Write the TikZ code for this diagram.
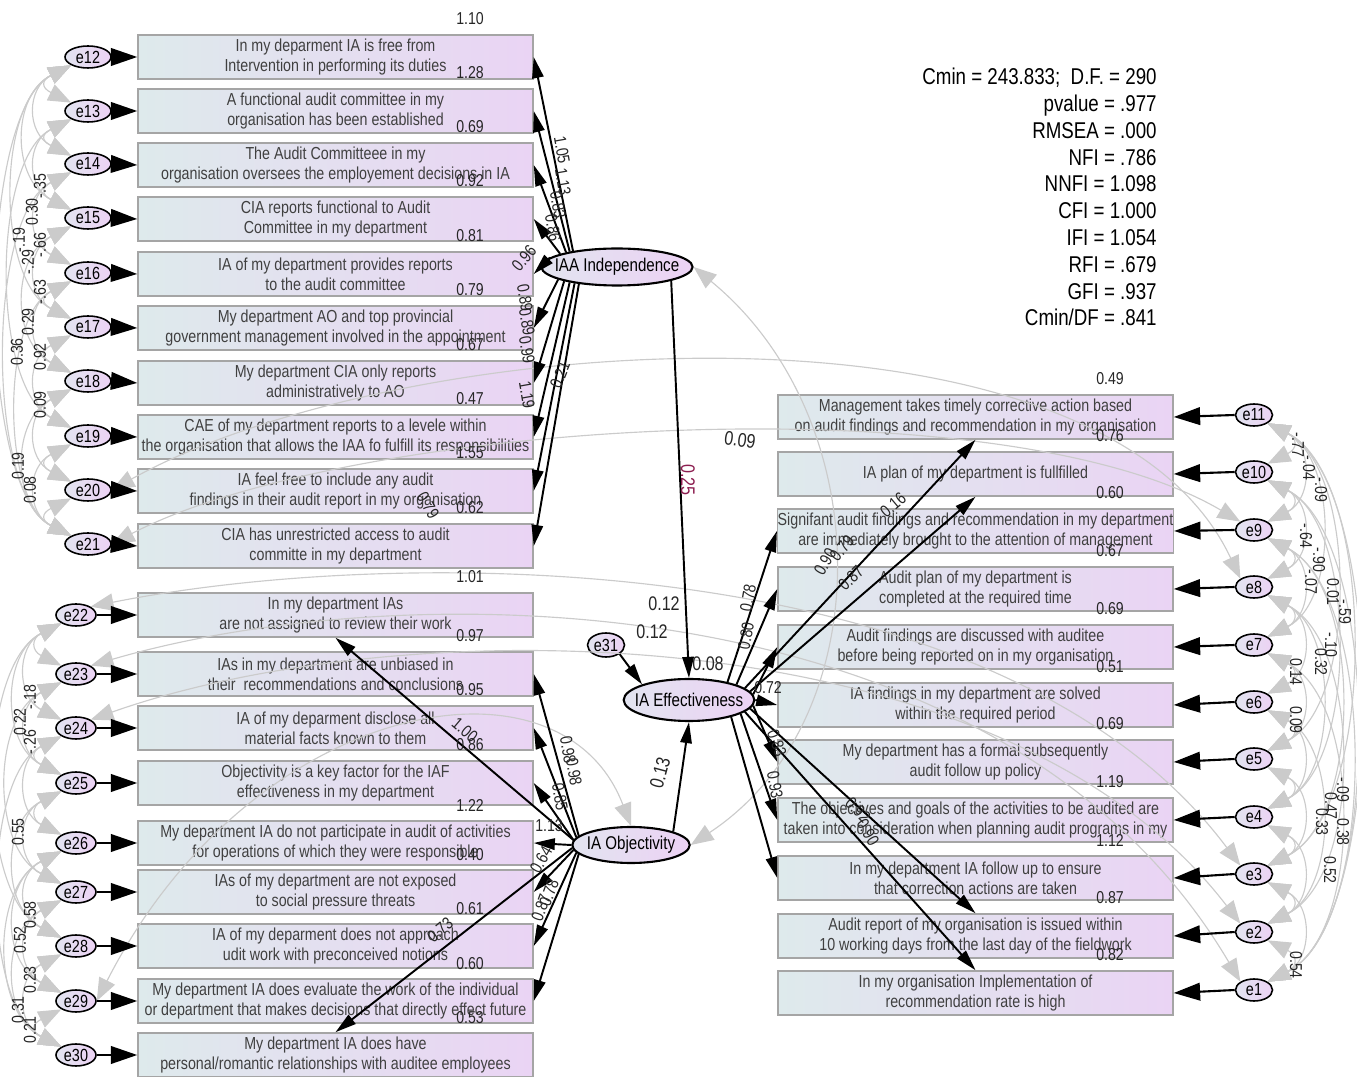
\documentclass[tikz,border=0pt]{standalone}
\usepackage{fontspec}
\setmainfont[FakeStretch=0.82]{Liberation Sans}
\usetikzlibrary{arrows.meta,shapes.geometric}
\definecolor{boxL}{RGB}{222,234,236}
\definecolor{boxR}{RGB}{234,212,244}
\definecolor{boxline}{RGB}{165,165,165}
\definecolor{itemtext}{RGB}{64,64,64}
\definecolor{ellL}{RGB}{226,228,240}
\definecolor{ellR}{RGB}{236,210,244}
\definecolor{covgray}{RGB}{203,203,203}
\definecolor{pathred}{RGB}{140,30,80}
\newcommand\boxtextfont{\fontsize{9.9}{11.3}\selectfont}
\newcommand\errtextfont{\fontsize{10}{12}\selectfont}
\newcommand\lattextfont{\fontsize{10.5}{12}\selectfont}
\newcommand\numtextfont{\fontsize{9.8}{11}\selectfont}
\newcommand\pathtextfont{\fontsize{11.2}{13}\selectfont}
\newcommand\stattextfont{\fontsize{13}{15}\selectfont}
\tikzset{
  itembox/.style={draw=boxline, line width=0.9pt, left color=boxL, right color=boxR,
    minimum width=7.9cm, minimum height=0.88cm, inner sep=0pt, align=center,
    text=itemtext, font=\boxtextfont},
  errnode/.style={ellipse, draw=black, line width=0.9pt, left color=ellL, right color=ellR,
    inner sep=0pt, minimum height=0.44cm, font=\errtextfont},
  errA/.style={errnode, minimum width=0.92cm},
  errB/.style={errnode, minimum width=0.80cm},
  errC/.style={errnode, minimum width=0.74cm},
  latent/.style={ellipse, draw=black, line width=1.2pt, left color=ellL, right color=ellR,
    inner ysep=0pt, font=\lattextfont},
  errarrow/.style={line width=1.2pt, -{Triangle[length=15pt,width=10pt]}},
  load/.style={line width=1.1pt, -{Triangle[length=12pt,width=6.5pt]}},
  covtip/.style={Triangle[length=13pt,width=10pt,fill=covgray,color=covgray]},
  cov/.style={draw=covgray, line width=0.65pt, {Triangle[length=13pt,width=10pt,fill=covgray,color=covgray]}-{Triangle[length=13pt,width=10pt,fill=covgray,color=covgray]}},
  val/.style={font=\numtextfont, inner sep=0pt, text=black!85},
  lbl/.style={font=\numtextfont, inner sep=0pt, text=black!85},
  plbl/.style={font=\pathtextfont, inner sep=0pt, text=black!85},
}
\begin{document}
\begin{tikzpicture}[x=0.02cm, y=-0.02cm]
\useasboundingbox (0,0) rectangle (1357,1077);

% ---------- indicator boxes: IAA Independence ----------
\node[itembox] (a1) at (335.5,57) {In my deparment IA is free from\\Intervention in performing its duties};
\node[itembox] (a2) at (335.5,111) {A functional audit committee in my\\organisation has been established};
\node[itembox] (a3) at (335.5,165) {The Audit Committeee in my\\organisation oversees the employement decisions in IA};
\node[itembox] (a4) at (335.5,219) {CIA reports functional to Audit\\Committee in my department};
\node[itembox] (a5) at (335.5,274) {IA of my department provides reports\\to the audit committee};
\node[itembox] (a6) at (335.5,328) {My department AO and top provincial\\government management involved in the appointment};
\node[itembox] (a7) at (335.5,383) {My department CIA only reports\\administratively to AO};
\node[itembox] (a8) at (335.5,437) {CAE of my department reports to a levele within\\the organisation that allows the IAA fo fulfill its responsibilities};
\node[itembox] (a9) at (335.5,491) {IA feel free to include any audit\\findings in their audit report in my organisation};
\node[itembox] (a10) at (335.5,546) {CIA has unrestricted access to audit\\committe in my department};

% ---------- indicator boxes: IA Objectivity ----------
\node[itembox] (o1) at (335.5,615) {In my department IAs\\are not assigned to review their work};
\node[itembox] (o2) at (335.5,674) {IAs in my department are unbiased in\\their\ \ recommendations and conclusions};
\node[itembox] (o3) at (335.5,728) {IA of my deparment disclose all\\material facts known to them};
\node[itembox] (o4) at (335.5,783) {Objectivity is a key factor for the IAF\\effectiveness in my department};
\node[itembox] (o5) at (335.5,843) {My department IA do not participate in audit of activities\\for operations of which they were responsible};
\node[itembox] (o6) at (335.5,892) {IAs of my department are not exposed\\to social pressure threats};
\node[itembox] (o7) at (335.5,946) {IA of my deparment does not approach\\udit work with preconceived notions};
\node[itembox] (o8) at (335.5,1001) {My department IA does evaluate the work of the individual\\or department that makes decisions that directly effect future};
\node[itembox] (o9) at (335.5,1055) {My department IA does have\\personal/romantic relationships with auditee employees};

% ---------- indicator boxes: IA Effectiveness ----------
\node[itembox] (b1) at (975.5,417) {Management takes timely corrective action based\\on audit findings and recommendation in my organisation};
\node[itembox] (b2) at (975.5,474) {IA plan of my department is fullfilled};
\node[itembox] (b3) at (975.5,531) {Signifant audit findings and recommendation in my department\\are immediately brought to the attention of management};
\node[itembox] (b4) at (975.5,589) {Audit plan of my department is\\completed at the required time};
\node[itembox] (b5) at (975.5,647) {Audit findings are discussed with auditee\\before being reported on in my organisation};
\node[itembox] (b6) at (975.5,705) {IA findings in my department are solved\\within the required period};
\node[itembox] (b7) at (975.5,762) {My department has a formal subsequently\\audit follow up policy};
\node[itembox] (b8) at (975.5,820) {The objectives and goals of the activities to be audited are\\taken into consideration when planning audit programs in my};
\node[itembox] (b9) at (975.5,878) {In my department IA follow up to ensure\\that correction actions are taken};
\node[itembox] (b10) at (975.5,936) {Audit report of my organisation is issued within\\10 working days from the last day of the fieldwork};
\node[itembox] (b11) at (975.5,993) {In my organisation Implementation of\\recommendation rate is high};

% ---------- latent variables ----------
\node[latent, inner xsep=-5pt, minimum width=3.0cm, minimum height=0.74cm] (ind) at (617,267) {IAA Independence};
\node[latent, inner xsep=-4.5pt, minimum width=2.42cm, minimum height=0.84cm] (eff) at (689,700) {IA Effectiveness};
\node[latent, inner xsep=-1.5pt, minimum width=2.3cm, minimum height=0.72cm] (obj) at (631,845) {IA Objectivity};
\node[errnode, minimum width=0.74cm, minimum height=0.48cm] (e31) at (606,645) {e31};

% ---------- error terms ----------
\foreach \k/\y in {12/57,13/111,14/164,15/218,16/273,17/327,18/381,19/436,20/490,21/544}
  \node[errA] (e\k) at (88,\y) {e\k};
\foreach \k/\y in {22/615,23/674,24/728,25/783,26/843,27/892,28/946,29/1001,30/1055}
  \node[errB] (e\k) at (76,\y) {e\k};
\foreach \k/\y in {11/415,10/472,9/530,8/587,7/645,6/702,5/759,4/817,3/874,2/932,1/990}
  \node[errC] (e\k) at (1254,\y) {e\k};

% ---------- covariances among error terms (left) ----------
\foreach \a/\b/\d in {12/13/30,13/14/30,14/15/30,15/16/30,16/17/30,17/18/30,18/19/30,19/20/30,20/21/30,
  12/14/45,13/15/45,14/16/45,15/17/45,16/18/45,17/19/45,18/20/45,19/21/45,
  12/15/60,15/18/60,18/21/60,12/17/75,14/21/85,13/19/80,16/21/70,12/21/95}
  \draw[cov] (e\a.south west) .. controls +(-\d,0.5*\d) and +(-\d,-0.5*\d) .. (e\b.north west);
\foreach \a/\b/\d in {22/23/30,23/24/30,24/25/30,25/26/30,26/27/30,27/28/30,28/29/30,29/30/30,
  22/24/45,23/25/45,24/26/45,25/27/45,26/28/45,27/29/45,28/30/45,
  22/25/60,25/28/60,26/29/60,27/30/60,23/27/70,22/28/85,24/30/80,26/30/70}
  \draw[cov] (e\a.south west) .. controls +(-\d,0.5*\d) and +(-\d,-0.5*\d) .. (e\b.north west);

% ---------- covariances among error terms (right) ----------
\foreach \a/\b/\d in {11/10/30,10/9/30,9/8/30,8/7/30,7/6/30,6/5/30,5/4/30,4/3/30,3/2/30,2/1/30,
  11/9/45,10/8/45,9/7/45,8/6/45,7/5/45,6/4/45,5/3/45,4/2/45,3/1/45,
  11/7/70,11/5/90,10/4/90,9/3/95,8/2/95,7/1/95,11/3/110,10/1/115,9/1/110,11/1/120,8/4/70,6/2/70}
  \draw[cov] (e\a.south east) .. controls +(\d,0.5*\d) and +(\d,-0.5*\d) .. (e\b.north east);

% ---------- long covariances across the model ----------
\draw[cov] (e21.east) .. controls (350,420) and (1000,380) .. (e9.north west);
\draw[cov] (e20.east) .. controls (400,330) and (1100,280) .. (e8.north west);
\draw[cov] (ind.east) .. controls (880,420) and (880,720) .. (obj.east);
\draw[cov] (e22.north east) .. controls (400,545) and (1000,545) .. (e3.north west);
\draw[cov] (e23.north east) .. controls (400,575) and (1000,575) .. (e1.north west);
\draw[cov] (e24.north east) .. controls (400,610) and (1000,610) .. (e2.north west);
\draw[cov] (e29.east) .. controls (250,700) and (560,640) .. (obj.north);

% ---------- error to indicator paths ----------
\foreach \k/\b in {12/a1,13/a2,14/a3,15/a4,16/a5,17/a6,18/a7,19/a8,20/a9,21/a10,
  22/o1,23/o2,24/o3,25/o4,26/o5,27/o6,28/o7,29/o8,30/o9}
  \draw[errarrow] (e\k.east) -- (\b.west);
\foreach \k/\b in {11/b1,10/b2,9/b3,8/b4,7/b5,6/b6,5/b7,4/b8,3/b9,2/b10,1/b11}
  \draw[errarrow] (e\k.west) -- (\b.east);

% ---------- factor loadings ----------
\foreach \i/\ang in {1/160,2/162,3/164,4/167,5/172,6/192,7/195,8/198,9/201,10/204}
  \draw[load] (ind.\ang) -- (a\i.east);
\draw[load] (obj.175) -- (o1.south);
\foreach \i/\ang in {2/170,3/172,4/175,5/180,6/185,7/188,8/190}
  \draw[load] (obj.\ang) -- (o\i.east);
\draw[load] (obj.183) -- (o9.north);
\draw[load] (eff.12) -- (b1.south);
\draw[load] (eff.8) -- (b2.south);
\foreach \i/\ang in {3/25,4/18,5/5,6/0,7/-5,8/-15,9/-22}
  \draw[load] (eff.\ang) -- (b\i.west);
\draw[load] (eff.-8) -- (b10.north);
\draw[load] (eff.-12) -- (b11.north);

% ---------- structural paths ----------
\draw[load] (ind.south east) -- (eff.north);
\draw[load] (obj.north east) -- (eff.south);
\draw[load] (e31.south east) -- (eff.north west);

% ---------- intercepts / variances above boxes ----------
\foreach \y/\v in {19/1.10,73/1.28,127/0.69,181/0.92,236/0.81,290/0.79,345/0.67,399/0.47,453/1.55,508/0.62,
  577/1.01,636/0.97,690/0.95,745/0.86,805/1.22,855/0.40,909/0.61,964/0.60,1018/0.53}
  \node[val] at (470,\y) {\v};
\foreach \y/\v in {379/0.49,436/0.76,493/0.60,551/0.67,609/0.69,667/0.51,724/0.69,782/1.19,840/1.12,898/0.87,955/0.82}
  \node[val] at (1110,\y) {\v};

% ---------- loading estimates ----------
\foreach \x/\y/\r/\v in {562/150/-80/1.05,563/182/-80/1.13,558/205/-80/0.83,553/228/-80/0.86,
  524/258/50/0.96,525/298/-80/0.89,527/322/-80/0.89,527/350/-80/0.99,560/375/68/0.21,527/395/-80/1.19,
  465/730/-40/1.00,568/750/-80/0.98,574/772/-80/0.98,560/797/-80/0.85,549/826/0/1.13,
  541/860/60/0.64,549/893/70/0.78,541/908/70/0.87,440/930/40/0.73,
  893/505/40/0.16,825/562/60/0.90,842/548/50/0.79,851/578/45/0.87,748/598/80/0.78,746/636/80/0.80,
  768/688/0/0.72,777/743/-70/0.83,775/785/-80/0.93,858/810/-45/0.92,868/832/-60/0.90}
  \node[lbl, rotate=\r] at (\x,\y) {\v};
\node[plbl, rotate=-90, text=pathred] at (688,480) {0.25};
\node[plbl, rotate=75] at (660,773) {0.13};
\node[plbl] at (664,604) {0.12};
\node[plbl] at (652,632) {0.12};
\node[plbl] at (708,664) {0.08};
\node[plbl, rotate=-8] at (740,440) {0.09};
\node[lbl, rotate=-60] at (428,505) {0.79};

% ---------- covariance estimates ----------
\foreach \x/\y/\v in {40/186/-.35,32/212/0.30,19/240/-.19,28/262/-.29,40/245/-.66,40/292/-.63,
  28/322/0.29,17/352/0.36,40/357/0.92,40/405/0.09,18/466/0.19,30/490/0.08,
  20/722/0.22,30/697/-.18,30/742/-.26,18/832/0.55,30/915/0.58,20/940/0.52,30/980/0.23,18/1010/0.31,30/1030/0.21}
  \node[lbl, rotate=90] at (\x,\y) {\v};
\foreach \x/\y/\v in {1298/445/-.77,1309/468/-.04,1321/490/-.09,1306/536/-.64,1319/560/-.90,1311/582/-.07,
  1333/592/0.01,1345/612/-.59,1331/645/-.10,1321/662/0.32,1296/672/0.14,1296/720/0.09,
  1343/790/-.09,1331/806/0.47,1322/822/0.33,1343/832/0.38,1330/870/0.52,1296/965/0.54}
  \node[lbl, rotate=-90] at (\x,\y) {\v};

% ---------- fit statistics ----------
\foreach \t [count=\k] in {Cmin = 243.833;\ \ D.F. = 290, pvalue = .977, RMSEA = .000, NFI = .786,
  NNFI = 1.098, CFI = 1.000, IFI = 1.054, RFI = .679, GFI = .937, Cmin/DF = .841}
  \node[font=\stattextfont, anchor=base east, inner sep=0pt] at (1157,{58+26.8*\k}) {\t};
\end{tikzpicture}
\end{document}
